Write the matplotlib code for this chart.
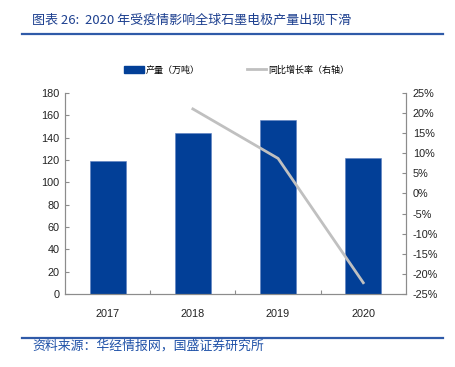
import matplotlib
matplotlib.use("Agg")
import matplotlib.pyplot as plt
from matplotlib.patches import Patch
from matplotlib.lines import Line2D
from matplotlib.ticker import FuncFormatter, MultipleLocator

years = ["2017", "2018", "2019", "2020"]
output_wt = [119, 144, 156, 121.5]          # 产量（万吨）
yoy_growth = [None, 21.0, 8.7, -22.2]       # 同比增长率 %
title = "图表 26:  2020 年受疫情影响全球石墨电极产量出现下滑"
source = "资料来源：华经情报网，国盛证券研究所"

cjk = ["Noto Sans CJK SC", "DejaVu Sans"]
num_font = ["Liberation Sans Narrow", "Liberation Sans", "DejaVu Sans"]
plt.rcParams["font.family"] = cjk

bar_color = "#023f97"
line_color = "#c0c0c0"
spine_color = "#8c8c8c"
title_color = "#1c3f8f"

fig = plt.figure(figsize=(4.55, 3.67), dpi=100)
ax = fig.add_axes([0.143, 0.199, 0.749, 0.548])
x = list(range(len(years)))
ax.bar(x, output_wt, width=0.42, color=bar_color, edgecolor="#5b7fc0", linewidth=0.4, zorder=2)
ax.set_xlim(-0.5, 3.5)
ax.set_ylim(0, 180)
ax.yaxis.set_major_locator(MultipleLocator(20))

ax2 = ax.twinx()
gx = [i for i, g in zip(x, yoy_growth) if g is not None]
gy = [g for g in yoy_growth if g is not None]
ax2.plot(gx, gy, color=line_color, linewidth=2.0, zorder=3)
ax2.set_ylim(-25, 25)
ax2.yaxis.set_major_locator(MultipleLocator(5))
ax2.yaxis.set_major_formatter(FuncFormatter(lambda v, p: f"{v:.0f}%"))

# category boundaries get the ticks, labels sit under the bars
ax.set_xticks([i + 0.5 for i in x[:-1]], minor=False)
ax.set_xticklabels([])
ax.set_xticks(x, minor=True)
ax.set_xticklabels(years, minor=True)
ax.tick_params(axis="x", which="minor", length=0, pad=11)
ax.tick_params(axis="x", which="major", direction="in", length=3, color=spine_color)
ax.tick_params(axis="y", direction="in", length=3, color=spine_color, pad=4)
ax2.tick_params(axis="y", direction="in", length=3, color=spine_color, pad=5)

for a in (ax, ax2):
    a.spines["top"].set_visible(False)
    for s in ("left", "right", "bottom"):
        a.spines[s].set_color(spine_color)
        a.spines[s].set_linewidth(0.8)
    for lab in a.get_xticklabels(minor=True) + a.get_yticklabels():
        lab.set_family(num_font)
        lab.set_fontsize(7.8)
        lab.set_color("#222222")

handles = [Patch(color=bar_color), Line2D([], [], color=line_color, linewidth=2.0)]
fig.legend(handles, ["产量（万吨）", "同比增长率（右轴）"], loc="center",
           bbox_to_anchor=(0.52, 0.809), ncol=2, frameon=False, fontsize=6.5,
           handlelength=2.2, handleheight=0.9, handletextpad=0.2, columnspacing=5.2)

fig.text(0.07, 0.945, title, fontsize=9.4, color=title_color, va="center", style="italic")
fig.add_artist(Line2D([0.048, 0.974], [0.907, 0.907], color="#2f5aa8", linewidth=1.6))
fig.add_artist(Line2D([0.048, 0.974], [0.079, 0.079], color="#2f5aa8", linewidth=1.6))
fig.text(0.07, 0.057, source, fontsize=9.3, color="#2052a8", va="center", style="italic")

fig.savefig("out.png", dpi=100)
